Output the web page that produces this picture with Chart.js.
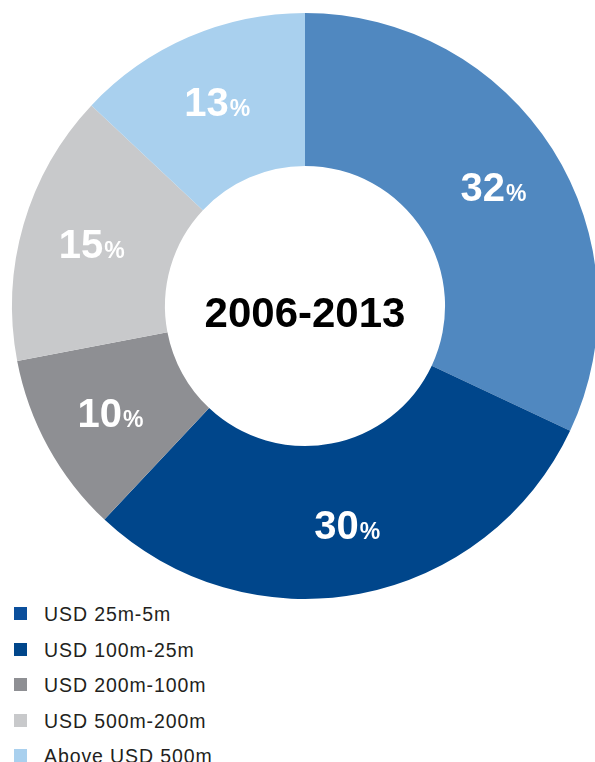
<!DOCTYPE html>
<html>
<head>
<meta charset="utf-8">
<script src="https://cdn.jsdelivr.net/npm/chart.js@4.4.1/dist/chart.umd.min.js"></script>
<style>
  html, body { margin: 0; padding: 0; background: #fff; overflow: hidden; width: 595px; height: 762px; }
  #wrap { position: absolute; left: 0; top: 0; width: 610px; height: 600px; }
  #legend { position: absolute; left: 14px; top: 601px; margin: 0; padding: 0; list-style: none;
            font-family: "Liberation Sans", Arial, sans-serif; font-size: 19.5px; letter-spacing: 0.9px; color: #231f20; }
  #legend li { height: 35.5px; line-height: 26px; position: relative; padding-left: 30px; white-space: nowrap; }
  #legend span { position: absolute; left: 0; top: 6px; width: 13px; height: 13px; }
</style>
</head>
<body>
<div id="wrap"><canvas id="chart"></canvas></div>
<ul id="legend"></ul>
<script>
// slices in drawing order, clockwise from 12 o'clock
const sliceLabels = ['USD 25m-5m', 'USD 100m-25m', 'USD 200m-100m', 'USD 500m-200m', 'Above USD 500m'];
const sliceValues = [32, 30, 10, 15, 13];
const centerText = '2006-2013';

const sliceColors = ['#5088c0', '#00468b', '#8e8f93', '#c8c9cb', '#a9d0ee'];
const legendColors = ['#0b4f9c', '#00468b', '#8e8f93', '#c8c9cb', '#a9d0ee'];

const legend = document.getElementById('legend');
for (let i = 0; i < sliceLabels.length; i++) {
    let li = document.createElement('li');
    li.innerHTML = '<span style="background:' + legendColors[i] + '"></span>' + sliceLabels[i];
    legend.appendChild(li);
}

// white percentage labels + year in the hole
const labelPlugin = {
    id: 'sliceText',
    afterDatasetsDraw(chart) {
        const ctx = chart.ctx;
        const meta = chart.getDatasetMeta(0);
        ctx.save();
        ctx.textBaseline = 'alphabetic';
        meta.data.forEach((arc, i) => {
            const mid = (arc.startAngle + arc.endAngle) / 2;
            const r = (arc.innerRadius + arc.outerRadius) / 2 + 6;
            const x = arc.x + Math.cos(mid) * r;
            const y = arc.y + Math.sin(mid) * r;
            const num = String(sliceValues[i]);
            ctx.font = 'bold 40px "Liberation Sans", Arial, sans-serif';
            const w1 = ctx.measureText(num).width;
            ctx.font = 'bold 23px "Liberation Sans", Arial, sans-serif';
            const w2 = ctx.measureText('%').width;
            const left = x - (w1 + w2) / 2;
            ctx.fillStyle = '#fff';
            ctx.textAlign = 'left';
            ctx.font = 'bold 40px "Liberation Sans", Arial, sans-serif';
            ctx.fillText(num, left, y + 14);
            ctx.font = 'bold 23px "Liberation Sans", Arial, sans-serif';
            ctx.fillText('%', left + w1 + 1, y + 14);
        });
        const a = meta.data[0];
        ctx.fillStyle = '#000';
        ctx.textAlign = 'center';
        ctx.font = 'bold 42px "Liberation Sans", Arial, sans-serif';
        ctx.fillText(centerText, a.x, a.y + 21);
        ctx.restore();
    }
};

let chart = new Chart(document.getElementById('chart').getContext('2d'), {
    type: 'doughnut',
    data: {
        labels: sliceLabels,
        datasets: [{
            data: sliceValues,
            backgroundColor: sliceColors,
            borderWidth: 0
        }]
    },
    options: {
        responsive: true,
        maintainAspectRatio: false,
        animation: false,
        cutout: '47.8%',
        layout: { padding: { left: 12, right: 12, top: 13, bottom: 1 } },
        plugins: {
            legend: { display: false },
            tooltip: { enabled: false }
        }
    },
    plugins: [labelPlugin]
});
</script>
</body>
</html>
